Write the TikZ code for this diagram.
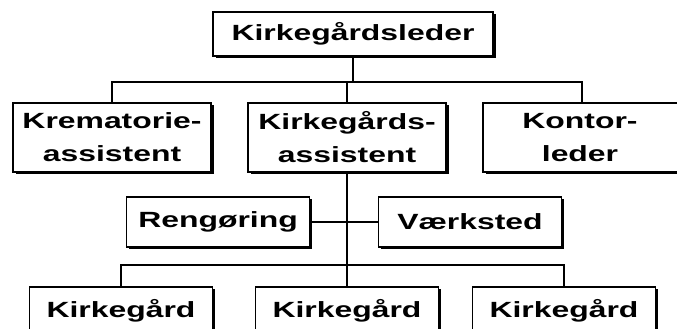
\documentclass[tikz,border=0pt]{standalone}
\usepackage{fontspec}
\newfontfamily\orgfont{Liberation Sans}[FakeStretch=1.45]
\usetikzlibrary{shadows,positioning}

\begin{document}
\begin{tikzpicture}[
      x=1pt,y=1pt,
      unit/.style = {rectangle,draw,fill=white,line width=1.1pt,inner sep=0pt,align=center,
        font=\orgfont\bfseries\fontsize{22}{33}\selectfont,
        drop shadow={shadow xshift=2.5pt,shadow yshift=-2.5pt,fill=black,opacity=1}},
      wide/.style = {unit,minimum width=198pt,minimum height=69pt},
      small/.style = {unit,minimum width=183pt,minimum height=50pt},
      link/.style = {line width=1.8pt}
    ]
      \useasboundingbox (0,0) rectangle (677,329);
      \clip (0,0) rectangle (677,329);
      % boxes
      \node (chief)[unit,minimum width=280pt,minimum height=44pt] at (353,295) {Kirkegårdsleder};
      \node (krem)[wide] at (112,191.5) {Krematorie-\\assistent};
      \node (kassist)[wide] at (347,191.5) {Kirkegårds-\\assistent};
      \node (kontor)[wide,minimum width=214pt] at (590,191.5) {Kontor-\hspace*{20pt}\\leder\hspace*{20pt}};
      \node (rengoring)[small] at (218,107) {Rengøring};
      \node (vaerksted)[small] at (470,107) {Værksted};
      \node (kirk1)[small,minimum height=48pt] at (121,18) {Kirkegård};
      \node (kirk2)[small,minimum height=48pt] at (347,18) {Kirkegård};
      \node (kirk3)[small,minimum height=48pt] at (564,18) {Kirkegård};
      % lines
      \coordinate (bus1) at (353,247);
      \coordinate (bus2) at (347,64);
      \draw [link] (chief.south) -- (bus1);
      \draw [link] (krem.north) |- (bus1) -| ([xshift=-8pt]kontor.north);
      \draw [link] (kassist.north) -- (kassist.north |- bus1);
      \draw [link] (kassist.south) -- (kirk2.north);
      \draw [link] (rengoring.east) -- (vaerksted.west);
      \draw [link] (kirk1.north) |- (bus2) -| (kirk3.north);
    \end{tikzpicture}
\end{document}
